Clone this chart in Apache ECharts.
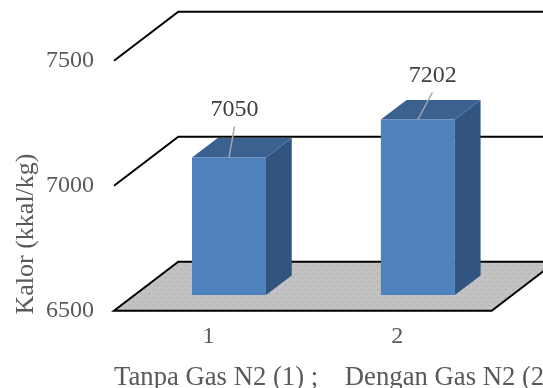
<!DOCTYPE html>
<html>
<head>
<meta charset="utf-8">
<script src="https://cdn.jsdelivr.net/npm/echarts@6/dist/echarts.min.js"></script>
<style>
  html, body { margin: 0; padding: 0; background: #ffffff; }
  #chart { width: 543px; height: 388px; }
</style>
</head>
<body>
<div id="chart"></div>
<script>
// ---- data ----
const categories = ['1', '2'];
const kalorValues = [7050, 7202];
const yTicks = [6500, 7000, 7500];
const yAxisTitle = 'Kalor (kkal/kg)';
const xAxisTitle = 'Tanpa Gas N2 (1) ;    Dengan Gas N2 (2)';

// ---- 3D look: oblique projection of the depth axis (pixels for the whole floor depth) ----
const DEPTH = [64.3, -49];
const BAR_FRONT = 0.32;   // where the bar's front face sits along the depth
const BAR_DEPTH = 0.40;   // bar thickness along the depth
const BAR_WIDTH = 0.392;  // share of a category band
// per-bar placement of the value label: [leader end dx, leader end dy, text centre dx, text centre dy]
const LABEL_PLACE = [[5.5, -31, 5.5, -48], [14.5, -27, 15, -44]];

const FONT = 'Liberation Serif, Times New Roman, serif';
const COL_FRONT = '#4F81BD';
const COL_TOP = '#3B6190';
const COL_SIDE = '#325480';

// dotted floor fill
function makeFloorPattern() {
  const c = document.createElement('canvas');
  c.width = 8; c.height = 8;
  const g = c.getContext('2d');
  g.fillStyle = '#C2C2C2';
  g.fillRect(0, 0, 8, 8);
  g.fillStyle = '#7F96B8';
  g.fillRect(1, 1, 1, 1);
  g.fillRect(5, 5, 1, 1);
  return c;
}
const floorPattern = makeFloorPattern();

const yMin = yTicks[0];
const yMax = yTicks[yTicks.length - 1];

const chart = echarts.init(document.getElementById('chart'), null, { renderer: 'canvas' });

chart.setOption({
  animation: false,
  backgroundColor: '#ffffff',
  grid: { left: 114, right: 51.3, top: 60.7, bottom: 77.3, containLabel: false },
  xAxis: {
    type: 'category',
    data: categories,
    boundaryGap: true,
    axisLine: { show: false },
    axisTick: { show: false },
    splitLine: { show: false },
    axisLabel: { fontFamily: FONT, fontSize: 24, color: '#595959', margin: 14 }
  },
  yAxis: {
    type: 'value',
    min: yMin,
    max: yMax,
    interval: yTicks[1] - yTicks[0],
    axisLine: { show: false },
    axisTick: { show: false },
    splitLine: { show: false },
    axisLabel: {
      fontFamily: FONT, fontSize: 24, color: '#595959', margin: 20,
      formatter: v => String(v)
    }
  },
  graphic: [
    {
      type: 'text',
      x: 26, y: 234,
      rotation: Math.PI / 2,
      style: {
        text: yAxisTitle, font: '26px ' + FONT, fill: '#595959',
        align: 'center', verticalAlign: 'middle'
      }
    },
    {
      type: 'text',
      x: 114, y: 378,
      style: {
        text: xAxisTitle, font: '26.7px ' + FONT, fill: '#595959',
        align: 'left', verticalAlign: 'middle'
      }
    }
  ],
  series: [
    {
      // floor and back-wall gridlines
      type: 'custom',
      coordinateSystem: 'cartesian2d',
      z: 1,
      silent: true,
      clip: false,
      data: yTicks.map(v => [0, v]),
      renderItem: function (params, api) {
        const cs = params.coordSys;
        const v = api.value(1);
        const y = api.coord([0, v])[1];
        const xl = cs.x, xr = cs.x + cs.width;
        if (v === yMin) {
          return {
            type: 'polygon',
            shape: {
              points: [
                [xl, y], [xr, y],
                [xr + DEPTH[0], y + DEPTH[1]], [xl + DEPTH[0], y + DEPTH[1]]
              ]
            },
            style: {
              fill: { image: floorPattern, repeat: 'repeat' },
              stroke: '#000000', lineWidth: 2, lineJoin: 'miter'
            }
          };
        }
        return {
          type: 'polyline',
          shape: {
            points: [
              [xl, y],
              [xl + DEPTH[0], y + DEPTH[1]],
              [xr + DEPTH[0], y + DEPTH[1]]
            ]
          },
          style: { fill: null, stroke: '#000000', lineWidth: 2, lineJoin: 'miter' }
        };
      }
    },
    {
      // 3D columns with value labels
      type: 'custom',
      coordinateSystem: 'cartesian2d',
      z: 2,
      clip: false,
      data: kalorValues.map((v, i) => [i, v]),
      renderItem: function (params, api) {
        const i = api.value(0);
        const v = api.value(1);
        const base = api.coord([i, yMin]);
        const top = api.coord([i, v]);
        const w = api.size([1, 0])[0] * BAR_WIDTH;
        const ox = DEPTH[0] * BAR_FRONT, oy = DEPTH[1] * BAR_FRONT;
        const dx = DEPTH[0] * BAR_DEPTH, dy = DEPTH[1] * BAR_DEPTH;
        const x0 = base[0] - w / 2 + ox, x1 = x0 + w;
        const yb = base[1] + oy, yt = top[1] + oy;
        const cx = (x0 + x1) / 2;
        const lp = LABEL_PLACE[params.dataIndex];
        return {
          type: 'group',
          children: [
            {
              type: 'polygon',
              shape: { points: [[x1, yt], [x1 + dx, yt + dy], [x1 + dx, yb + dy], [x1, yb]] },
              style: { fill: COL_SIDE }
            },
            {
              type: 'polygon',
              shape: { points: [[x0, yt], [x1, yt], [x1 + dx, yt + dy], [x0 + dx, yt + dy]] },
              style: { fill: COL_TOP }
            },
            {
              type: 'rect',
              shape: { x: x0, y: yt, width: w, height: yb - yt },
              style: { fill: COL_FRONT }
            },
            {
              type: 'line',
              shape: { x1: cx, y1: yt, x2: cx + lp[0], y2: yt + lp[1] },
              style: { stroke: '#A6A6A6', lineWidth: 1.5 }
            },
            {
              type: 'text',
              x: cx + lp[2], y: yt + lp[3],
              style: {
                text: String(v), font: '24px ' + FONT, fill: '#404040',
                align: 'center', verticalAlign: 'middle'
              }
            }
          ]
        };
      }
    }
  ]
});
</script>
</body>
</html>
